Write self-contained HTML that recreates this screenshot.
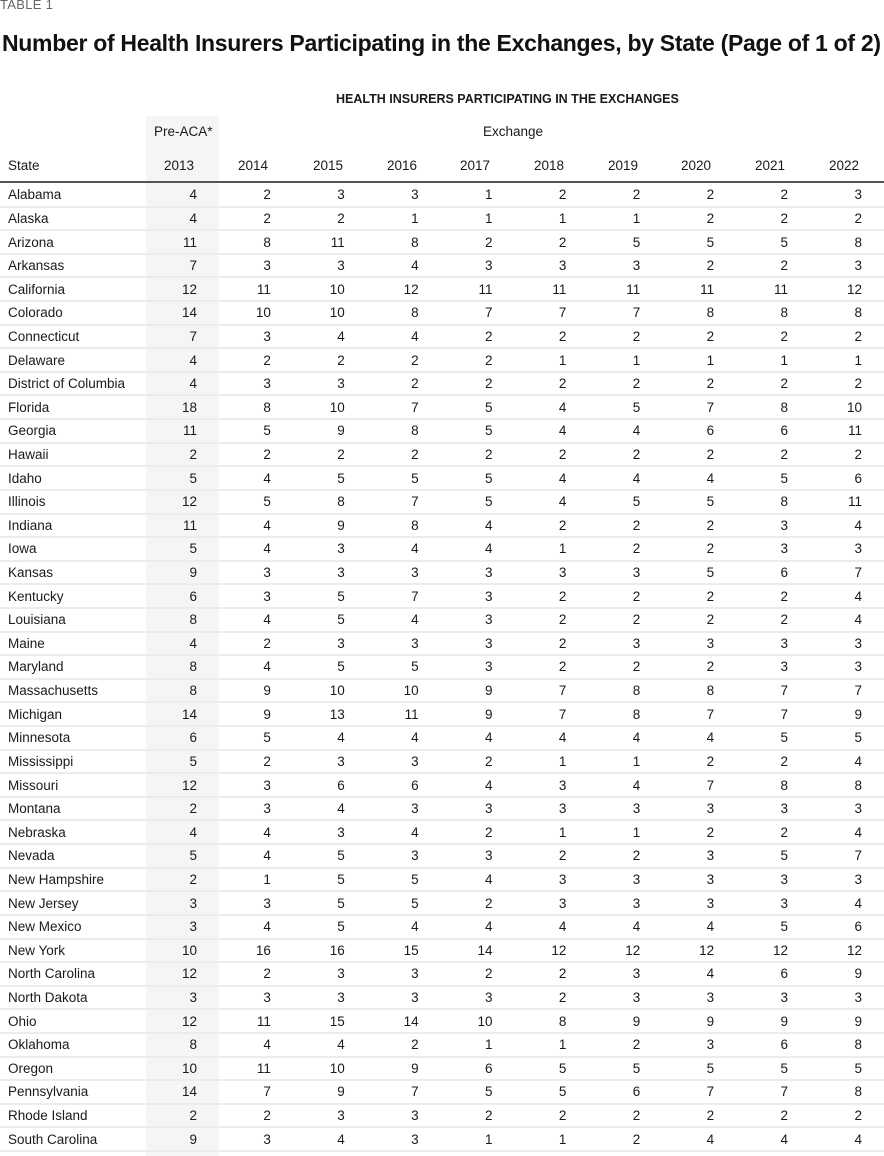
<!DOCTYPE html>
<html><head><meta charset="utf-8"><style>
body{margin:0;width:884px;height:1151px;background:#fff;position:relative;overflow:hidden;font-family:"Liberation Sans",sans-serif;color:#1a1a1a}
.t1{position:absolute;left:0;top:-3px;font-size:13px;color:#666;letter-spacing:0.3px}
.title{position:absolute;left:2px;top:30px;font-size:23px;font-weight:bold;color:#111;letter-spacing:-0.3px;white-space:nowrap}
.shade{position:absolute;left:146px;top:116px;width:73px;height:1040px;background:#f4f6f5}
.h{position:absolute;font-size:13.5px;white-space:nowrap}
table{position:absolute;left:0;top:183px;border-collapse:collapse;width:884px;table-layout:fixed}
td{height:23.62px;padding:0;font-size:13.5px;border-bottom:2px solid #ececec;box-sizing:border-box;text-align:right;padding-right:22px}
td:first-child{text-align:left;padding-left:8px;padding-right:0;width:146px}
td:nth-child(2){width:73px}
.line{position:absolute;left:0;top:181px;width:884px;height:2px;background:#555}
</style></head><body>
<div class="t1">TABLE 1</div>
<div class="title">Number of Health Insurers Participating in the Exchanges, by State (Page of 1 of 2)</div>
<div class="shade"></div>
<div class="h" style="left:336px;top:92px;font-weight:bold;font-size:12.5px">HEALTH INSURERS PARTICIPATING IN THE EXCHANGES</div>
<div class="h" style="left:154px;top:124px">Pre-ACA*</div>
<div class="h" style="left:483px;top:124px">Exchange</div>
<div class="h" style="left:8px;top:158px">State</div>
<div class="h" style="left:164px;top:158px">2013</div>
<div class="h" style="left:238px;top:158px">2014</div>
<div class="h" style="left:313px;top:158px">2015</div>
<div class="h" style="left:387px;top:158px">2016</div>
<div class="h" style="left:460px;top:158px">2017</div>
<div class="h" style="left:534px;top:158px">2018</div>
<div class="h" style="left:608px;top:158px">2019</div>
<div class="h" style="left:681px;top:158px">2020</div>
<div class="h" style="left:755px;top:158px">2021</div>
<div class="h" style="left:829px;top:158px">2022</div>
<div class="line"></div>
<table>
<tr><td>Alabama</td><td>4</td><td>2</td><td>3</td><td>3</td><td>1</td><td>2</td><td>2</td><td>2</td><td>2</td><td>3</td></tr>
<tr><td>Alaska</td><td>4</td><td>2</td><td>2</td><td>1</td><td>1</td><td>1</td><td>1</td><td>2</td><td>2</td><td>2</td></tr>
<tr><td>Arizona</td><td>11</td><td>8</td><td>11</td><td>8</td><td>2</td><td>2</td><td>5</td><td>5</td><td>5</td><td>8</td></tr>
<tr><td>Arkansas</td><td>7</td><td>3</td><td>3</td><td>4</td><td>3</td><td>3</td><td>3</td><td>2</td><td>2</td><td>3</td></tr>
<tr><td>California</td><td>12</td><td>11</td><td>10</td><td>12</td><td>11</td><td>11</td><td>11</td><td>11</td><td>11</td><td>12</td></tr>
<tr><td>Colorado</td><td>14</td><td>10</td><td>10</td><td>8</td><td>7</td><td>7</td><td>7</td><td>8</td><td>8</td><td>8</td></tr>
<tr><td>Connecticut</td><td>7</td><td>3</td><td>4</td><td>4</td><td>2</td><td>2</td><td>2</td><td>2</td><td>2</td><td>2</td></tr>
<tr><td>Delaware</td><td>4</td><td>2</td><td>2</td><td>2</td><td>2</td><td>1</td><td>1</td><td>1</td><td>1</td><td>1</td></tr>
<tr><td>District of Columbia</td><td>4</td><td>3</td><td>3</td><td>2</td><td>2</td><td>2</td><td>2</td><td>2</td><td>2</td><td>2</td></tr>
<tr><td>Florida</td><td>18</td><td>8</td><td>10</td><td>7</td><td>5</td><td>4</td><td>5</td><td>7</td><td>8</td><td>10</td></tr>
<tr><td>Georgia</td><td>11</td><td>5</td><td>9</td><td>8</td><td>5</td><td>4</td><td>4</td><td>6</td><td>6</td><td>11</td></tr>
<tr><td>Hawaii</td><td>2</td><td>2</td><td>2</td><td>2</td><td>2</td><td>2</td><td>2</td><td>2</td><td>2</td><td>2</td></tr>
<tr><td>Idaho</td><td>5</td><td>4</td><td>5</td><td>5</td><td>5</td><td>4</td><td>4</td><td>4</td><td>5</td><td>6</td></tr>
<tr><td>Illinois</td><td>12</td><td>5</td><td>8</td><td>7</td><td>5</td><td>4</td><td>5</td><td>5</td><td>8</td><td>11</td></tr>
<tr><td>Indiana</td><td>11</td><td>4</td><td>9</td><td>8</td><td>4</td><td>2</td><td>2</td><td>2</td><td>3</td><td>4</td></tr>
<tr><td>Iowa</td><td>5</td><td>4</td><td>3</td><td>4</td><td>4</td><td>1</td><td>2</td><td>2</td><td>3</td><td>3</td></tr>
<tr><td>Kansas</td><td>9</td><td>3</td><td>3</td><td>3</td><td>3</td><td>3</td><td>3</td><td>5</td><td>6</td><td>7</td></tr>
<tr><td>Kentucky</td><td>6</td><td>3</td><td>5</td><td>7</td><td>3</td><td>2</td><td>2</td><td>2</td><td>2</td><td>4</td></tr>
<tr><td>Louisiana</td><td>8</td><td>4</td><td>5</td><td>4</td><td>3</td><td>2</td><td>2</td><td>2</td><td>2</td><td>4</td></tr>
<tr><td>Maine</td><td>4</td><td>2</td><td>3</td><td>3</td><td>3</td><td>2</td><td>3</td><td>3</td><td>3</td><td>3</td></tr>
<tr><td>Maryland</td><td>8</td><td>4</td><td>5</td><td>5</td><td>3</td><td>2</td><td>2</td><td>2</td><td>3</td><td>3</td></tr>
<tr><td>Massachusetts</td><td>8</td><td>9</td><td>10</td><td>10</td><td>9</td><td>7</td><td>8</td><td>8</td><td>7</td><td>7</td></tr>
<tr><td>Michigan</td><td>14</td><td>9</td><td>13</td><td>11</td><td>9</td><td>7</td><td>8</td><td>7</td><td>7</td><td>9</td></tr>
<tr><td>Minnesota</td><td>6</td><td>5</td><td>4</td><td>4</td><td>4</td><td>4</td><td>4</td><td>4</td><td>5</td><td>5</td></tr>
<tr><td>Mississippi</td><td>5</td><td>2</td><td>3</td><td>3</td><td>2</td><td>1</td><td>1</td><td>2</td><td>2</td><td>4</td></tr>
<tr><td>Missouri</td><td>12</td><td>3</td><td>6</td><td>6</td><td>4</td><td>3</td><td>4</td><td>7</td><td>8</td><td>8</td></tr>
<tr><td>Montana</td><td>2</td><td>3</td><td>4</td><td>3</td><td>3</td><td>3</td><td>3</td><td>3</td><td>3</td><td>3</td></tr>
<tr><td>Nebraska</td><td>4</td><td>4</td><td>3</td><td>4</td><td>2</td><td>1</td><td>1</td><td>2</td><td>2</td><td>4</td></tr>
<tr><td>Nevada</td><td>5</td><td>4</td><td>5</td><td>3</td><td>3</td><td>2</td><td>2</td><td>3</td><td>5</td><td>7</td></tr>
<tr><td>New Hampshire</td><td>2</td><td>1</td><td>5</td><td>5</td><td>4</td><td>3</td><td>3</td><td>3</td><td>3</td><td>3</td></tr>
<tr><td>New Jersey</td><td>3</td><td>3</td><td>5</td><td>5</td><td>2</td><td>3</td><td>3</td><td>3</td><td>3</td><td>4</td></tr>
<tr><td>New Mexico</td><td>3</td><td>4</td><td>5</td><td>4</td><td>4</td><td>4</td><td>4</td><td>4</td><td>5</td><td>6</td></tr>
<tr><td>New York</td><td>10</td><td>16</td><td>16</td><td>15</td><td>14</td><td>12</td><td>12</td><td>12</td><td>12</td><td>12</td></tr>
<tr><td>North Carolina</td><td>12</td><td>2</td><td>3</td><td>3</td><td>2</td><td>2</td><td>3</td><td>4</td><td>6</td><td>9</td></tr>
<tr><td>North Dakota</td><td>3</td><td>3</td><td>3</td><td>3</td><td>3</td><td>2</td><td>3</td><td>3</td><td>3</td><td>3</td></tr>
<tr><td>Ohio</td><td>12</td><td>11</td><td>15</td><td>14</td><td>10</td><td>8</td><td>9</td><td>9</td><td>9</td><td>9</td></tr>
<tr><td>Oklahoma</td><td>8</td><td>4</td><td>4</td><td>2</td><td>1</td><td>1</td><td>2</td><td>3</td><td>6</td><td>8</td></tr>
<tr><td>Oregon</td><td>10</td><td>11</td><td>10</td><td>9</td><td>6</td><td>5</td><td>5</td><td>5</td><td>5</td><td>5</td></tr>
<tr><td>Pennsylvania</td><td>14</td><td>7</td><td>9</td><td>7</td><td>5</td><td>5</td><td>6</td><td>7</td><td>7</td><td>8</td></tr>
<tr><td>Rhode Island</td><td>2</td><td>2</td><td>3</td><td>3</td><td>2</td><td>2</td><td>2</td><td>2</td><td>2</td><td>2</td></tr>
<tr><td>South Carolina</td><td>9</td><td>3</td><td>4</td><td>3</td><td>1</td><td>1</td><td>2</td><td>4</td><td>4</td><td>4</td></tr>
</table>
</body></html>
